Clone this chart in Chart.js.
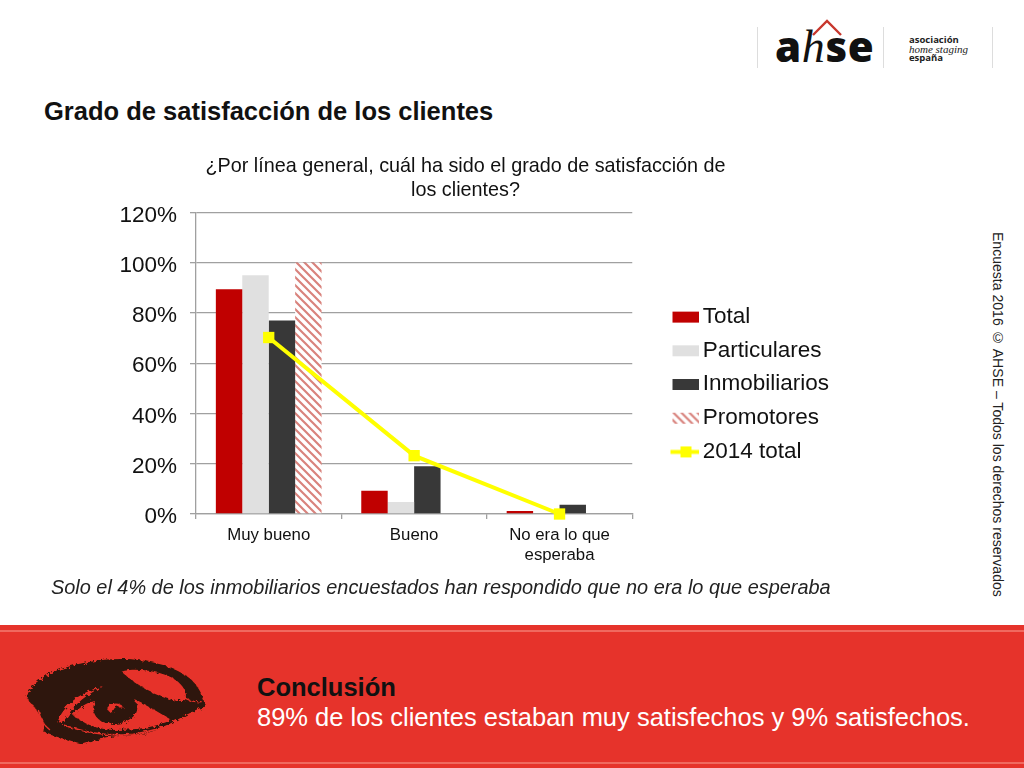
<!DOCTYPE html>
<html>
<head>
<meta charset="utf-8">
<script src="https://cdn.jsdelivr.net/npm/chart.js@4"></script>
<style>
html, body { margin: 0; padding: 0; background: #fff; }
body { position: relative; width: 1024px; height: 768px; overflow: hidden; font-family: "Liberation Sans", Arial, sans-serif; color: #111; }
div, svg, canvas { position: absolute; }
#heading { left: 44px; top: 97px; font-size: 25.5px; font-weight: bold; white-space: nowrap; }
#note { left: 51px; top: 576px; font-size: 19.9px; font-style: italic; white-space: nowrap; color: #222; }
#side { left: 990px; top: 232px; font-size: 14.05px; white-space: nowrap; writing-mode: vertical-rl; color: #222; }
#band { left: 0; top: 625px; width: 1024px; height: 143px; background: #e6332b; }
#band .l1 { left: 0; top: 5px; width: 1024px; height: 1.5px; background: #f0695f; }
#band .l2 { left: 0; top: 137px; width: 1024px; height: 1.5px; background: #f0695f; }
#concl { left: 257px; top: 673px; font-size: 25.5px; font-weight: bold; color: #111; white-space: nowrap; }
#concl2 { left: 257px; top: 703px; font-size: 25.5px; color: #fff; white-space: nowrap; }
.vl { top: 27px; width: 1px; height: 41px; background: #ddd; }
#lg-a { left: 775px; top: 21px; height: 50px; font: 800 42px/50px "Open Sans", sans-serif; letter-spacing: 0.6px; color: #111; white-space: nowrap; }
#lg-a i { font: italic 46px/50px "Liberation Serif", serif; }
.lg-t { left: 909px; font: bold 9.5px "Open Sans", sans-serif; color: #222; white-space: nowrap; }
#chart { left: 0; top: 150px; }
</style>
</head>
<body>
<div class="vl" style="left:757px"></div>
<div class="vl" style="left:883px"></div>
<div class="vl" style="left:992px"></div>
<div id="lg-a">a<i>h</i>se</div>
<svg style="left:810px;top:18px" width="34" height="20"><polyline points="3,17 17,3 31,17" fill="none" stroke="#c8372d" stroke-width="2.4"/></svg>
<div class="lg-t" style="top:33px">asociación</div>
<div class="lg-t" style="top:43px;font:italic 11px 'Liberation Serif',serif">home staging</div>
<div class="lg-t" style="top:51px">españa</div>

<div id="heading">Grado de satisfacción de los clientes</div>
<canvas id="chart" width="930" height="430"></canvas>
<div id="note">Solo el 4% de los inmobiliarios encuestados han respondido que no era lo que esperaba</div>
<div id="side">Encuesta 2016 © AHSE – Todos los derechos reservados</div>

<div id="band"><div class="l1"></div><div class="l2"></div></div>
<svg style="left:0;top:615px" width="260" height="153" viewBox="0 0 780 459">
  <defs>
    <filter id="rough" x="-5%" y="-5%" width="110%" height="110%">
      <feTurbulence type="fractalNoise" baseFrequency="0.09" numOctaves="3" seed="4"/>
      <feDisplacementMap in="SourceGraphic" scale="16"/>
    </filter>
  </defs>
  <g filter="url(#rough)">
    <path fill="#2e1408" d="M80 245 C95 205 130 180 190 160 C250 140 320 130 380 132 C450 135 530 155 575 195 C600 220 612 250 615 275 C590 280 560 300 520 320 C480 345 430 360 380 362 C330 362 290 375 250 388 C210 375 160 365 130 350 C140 320 110 290 100 270 C90 265 85 255 80 245 Z"/>
    <path fill="#e6332b" d="M365 170 C400 158 470 165 520 190 C550 210 565 235 555 255 C530 265 480 245 440 225 C410 205 385 190 365 170 Z"/>
    <path fill="#e6332b" d="M172 322 C190 275 230 235 310 212 C260 240 225 265 205 300 C195 315 185 325 172 322 Z"/>
    <path fill="#e6332b" d="M218 300 C240 275 262 262 285 258 C272 285 285 312 312 322 C345 335 390 322 408 295 C415 280 412 265 405 255 C440 270 480 295 515 315 C470 335 420 345 350 345 C290 345 250 325 218 300 Z"/>
    <path fill="#e6332b" d="M322 278 C335 260 365 262 372 280 C360 270 340 275 340 290 C332 295 324 290 322 278 Z"/>
    <path fill="none" stroke="#e6332b" stroke-width="5" d="M190 330 C250 350 310 365 400 358 C450 350 490 340 530 322"/>
    <path fill="none" stroke="#e6332b" stroke-width="4" d="M115 285 C120 310 130 330 150 345 M540 240 C560 255 585 262 605 260 M300 372 C340 362 380 368 430 372"/>
  </g>
</svg>
<div id="concl">Conclusión</div>
<div id="concl2">89% de los clientes estaban muy satisfechos y 9% satisfechos.</div>

<script>
var categories = ["Muy bueno", "Bueno", ["No era lo que", "esperaba"]];
var total = [89.4, 9.2, 1.2];
var particulares = [95, 4.8, 0];
var inmobiliarios = [77, 19, 3.7];
var promotores = [100, 0, 0];
var total2014 = [70.2, 23.2, 0];
var yTicks = 20;
var yMax = 120;

function hatch() {
  var c = document.createElement("canvas");
  c.width = 8; c.height = 8;
  var g = c.getContext("2d");
  g.fillStyle = "#fff";
  g.fillRect(0, 0, 8, 8);
  g.strokeStyle = "#d9837d";
  g.lineWidth = 2.2;
  g.beginPath();
  g.moveTo(-2, -2); g.lineTo(10, 10);
  g.moveTo(-10, -2); g.lineTo(2, 10);
  g.moveTo(6, -2); g.lineTo(18, 10);
  g.stroke();
  return g.createPattern(c, "repeat");
}
var hatchFill = hatch();

// legend swatches are drawn to small canvases, the legend centres them itself
function swatch(fill, isLine) {
  var c = document.createElement("canvas");
  c.width = 36; c.height = 14;
  var g = c.getContext("2d");
  if (isLine) {
    g.fillStyle = "#ffff00";
    g.fillRect(7, 5.5, 30, 4);
    g.fillRect(17, 2, 11, 11);
  } else {
    g.fillStyle = fill;
    g.fillRect(9, 2, 27, 11);
  }
  return c;
}

var nudgeLegend = {
  id: "nudgeLegend",
  afterLayout: function (chart) {
    chart.legend.left += 28;
    chart.legend.right += 28;
    chart.legend.top += 17;
    chart.legend.bottom += 17;
    chart.titleBlock.left += 60;
    chart.titleBlock.right += 60;
  }
};

var ctx = document.getElementById("chart");
var chart = new Chart(ctx, {
  type: "bar",
  plugins: [nudgeLegend],
  data: {
    labels: categories,
    datasets: [
      { label: "Total", data: total, backgroundColor: "#c00000", order: 1 },
      { label: "Particulares", data: particulares, backgroundColor: "#e0e0e0", order: 1 },
      { label: "Inmobiliarios", data: inmobiliarios, backgroundColor: "#383838", order: 1 },
      { label: "Promotores", data: promotores, backgroundColor: hatchFill, order: 1 },
      {
        type: "line", label: "2014 total", data: total2014, order: 0, clip: false,
        borderColor: "#ffff00", backgroundColor: "#ffff00", borderWidth: 4,
        pointStyle: "rect", pointRadius: 8, pointBorderWidth: 0, tension: 0
      }
    ]
  },
  options: {
    responsive: false,
    animation: false,
    devicePixelRatio: 1,
    layout: { padding: { top: 4, right: 119, bottom: 0, left: 0 } },
    datasets: { bar: { categoryPercentage: 0.727, barPercentage: 1 } },
    scales: {
      x: {
        afterFit: function (s) { s.height = 66; },
        grid: { offset: true, drawOnChartArea: false, drawTicks: true, tickLength: 5, color: "#a0a0a0", lineWidth: 1.3 },
        border: { color: "#a0a0a0", width: 1.3 },
        ticks: { color: "#111", font: { family: "Liberation Sans", size: 16.8, lineHeight: 1.19 }, padding: 6, maxRotation: 0, autoSkip: false }
      },
      y: {
        min: 0, max: yMax,
        afterFit: function (s) { s.width = 196; },
        grid: { tickLength: 6, color: "#a0a0a0", lineWidth: 1.3 },
        border: { color: "#a0a0a0", width: 1.3 },
        ticks: {
          stepSize: yTicks, color: "#111", padding: 13, labelOffset: 3,
          font: { family: "Liberation Sans", size: 22.5 },
          callback: function (v) { return v + "%"; }
        }
      }
    },
    plugins: {
      tooltip: { enabled: false },
      title: {
        display: true,
        text: ["¿Por línea general, cuál ha sido el grado de satisfacción de", "los clientes?"],
        color: "#111",
        font: { family: "Liberation Sans", size: 19.8, weight: "normal", lineHeight: 1.22 },
        padding: { top: 0, bottom: 10 }
      },
      legend: {
        position: "right",
        labels: {
          color: "#111",
          font: { family: "Liberation Sans", size: 22.5 },
          padding: 11.2,
          usePointStyle: true,
          pointStyleWidth: 20,
          generateLabels: function (c) {
            return c.data.datasets.map(function (d, i) {
              return {
                text: d.label,
                datasetIndex: i,
                fontColor: "#111",
                lineWidth: 0,
                pointStyle: swatch(d.backgroundColor, d.type === "line")
              };
            });
          }
        }
      }
    }
  }
});
</script>
</body>
</html>
